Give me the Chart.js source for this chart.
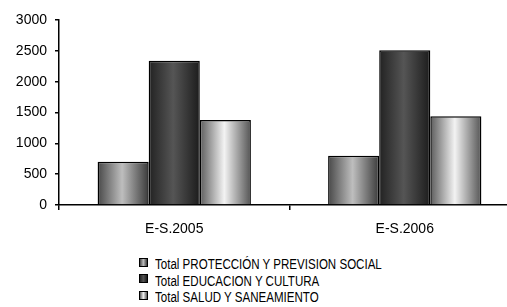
<!DOCTYPE html>
<html>
<head>
<meta charset="utf-8">
<script src="https://cdn.jsdelivr.net/npm/chart.js@4"></script>
<style>
  html, body { margin: 0; padding: 0; background: #fff; overflow: hidden; width: 507px; height: 307px; }
  #wrap { position: absolute; left: 0; top: 0; width: 520px; height: 245px; }
  #legend { position: absolute; left: 139px; top: 256px; font-family: "Liberation Sans", Arial, sans-serif; font-size: 14px; color: #000; line-height: 16.5px; }
  .item { display: flex; align-items: center; white-space: nowrap; height: 16.5px; }
  .box { width: 7px; height: 7px; border: 1px solid #000; margin-right: 7px; margin-top: -4px; flex: none; }
  .txt { display: inline-block; transform: scaleX(0.825); transform-origin: left center; }
</style>
</head>
<body>
<div id="wrap"><canvas id="chart" width="520" height="245"></canvas></div>
<div id="legend"></div>
<script>
// data
const categories = ["E-S.2005", "E-S.2006"];
const seriesNames = [
  "Total PROTECCIÓN Y PREVISION SOCIAL",
  "Total EDUCACION Y CULTURA",
  "Total SALUD Y SANEAMIENTO",
];
const proteccion = [700, 800];
const educacion = [2340, 2510];
const salud = [1380, 1440];
const yTicks = [0, 500, 1000, 1500, 2000, 2500, 3000];

// horizontal shading per series (edge, middle, edge)
const shades = [
  ["#484848", "#bebebe", "#3a3a3a"],
  ["#222222", "#555555", "#1c1c1c"],
  ["#5c5c5c", "#f3f3f3", "#545454"],
];

// paint each bar with a left-to-right gradient once its geometry is known
const barShading = {
  id: "barShading",
  beforeDatasetsDraw(chart) {
    const ctx = chart.ctx;
    chart.data.datasets.forEach((ds, i) => {
      const meta = chart.getDatasetMeta(i);
      meta.data.forEach((bar) => {
        const left = bar.x - bar.width / 2;
        const g = ctx.createLinearGradient(left, 0, left + bar.width, 0);
        g.addColorStop(0, shades[i][0]);
        g.addColorStop(0.48, shades[i][1]);
        g.addColorStop(1, shades[i][2]);
        bar.options.backgroundColor = g;
      });
    });
  },
};

const font = { family: "'Liberation Sans', Arial, sans-serif", size: 14 };

const chart = new Chart(document.getElementById("chart"), {
  type: "bar",
  data: {
    labels: categories,
    datasets: [proteccion, educacion, salud].map((d, i) => ({
      label: seriesNames[i],
      data: d,
      backgroundColor: shades[i][1],
      borderColor: "#000",
      borderWidth: () => 1.5, // scriptable so every bar keeps its own options object
      barPercentage: 1,
      categoryPercentage: 0.665,
    })),
  },
  options: {
    responsive: false,
    animation: false,
    events: [],
    layout: { padding: { top: 20, left: 0, right: 0, bottom: 0 } },
    plugins: { legend: { display: false }, tooltip: { enabled: false } },
    scales: {
      x: {
        grid: { drawOnChartArea: false, offset: true, color: "#000", tickLength: 5, lineWidth: 1.5 },
        border: { color: "#000", width: 1.5 },
        ticks: { color: "#000", font, padding: 11 },
        afterFit(s) { s.height = 40; },
      },
      y: {
        min: 0,
        max: 3000,
        afterBuildTicks(s) { s.ticks = yTicks.map((v) => ({ value: v })); },
        grid: { drawOnChartArea: false, color: "#000", tickLength: 4, lineWidth: 1.5 },
        border: { color: "#000", width: 1.5 },
        ticks: { color: "#000", font, padding: 8, callback: (v) => String(v) },
        afterFit(s) { s.width = 59; },
      },
    },
  },
  plugins: [barShading],
});

// legend stacked one entry per line, built from the chart's datasets
const legendEl = document.getElementById("legend");
chart.data.datasets.forEach((ds, i) => {
  const row = document.createElement("div");
  row.className = "item";
  const box = document.createElement("span");
  box.className = "box";
  box.style.background = `linear-gradient(to right, ${shades[i][0]}, ${shades[i][1]} 48%, ${shades[i][2]})`;
  const txt = document.createElement("span");
  txt.className = "txt";
  txt.textContent = ds.label;
  row.appendChild(box);
  row.appendChild(txt);
  legendEl.appendChild(row);
});
</script>
</body>
</html>
